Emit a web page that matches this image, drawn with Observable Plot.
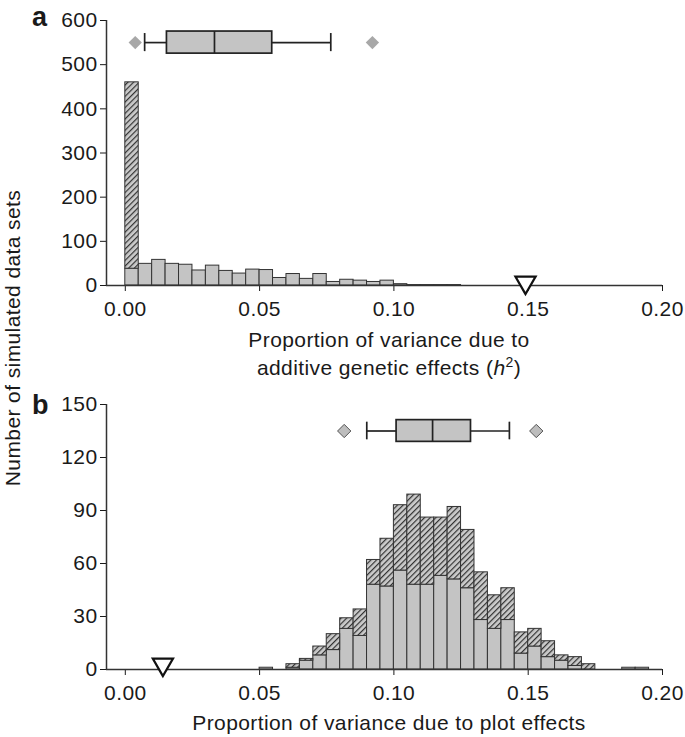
<!DOCTYPE html>
<html><head><meta charset="utf-8">
<script src="https://cdn.jsdelivr.net/npm/d3@7"></script>
<script src="https://cdn.jsdelivr.net/npm/@observablehq/plot@0.6"></script>
<style>
body{margin:0;background:#fff;}
#wrap{position:relative;width:685px;height:737px;overflow:hidden;font-family:"Liberation Sans",Arial,Helvetica,sans-serif;color:#1a1a1a;letter-spacing:0.4px;}
.panel{position:absolute;left:0;}
.xl{position:absolute;width:440px;text-align:center;font-size:21px;line-height:28px;white-space:nowrap;}
.lett{position:absolute;font-size:27px;font-weight:bold;line-height:30px;}
.yl{position:absolute;font-size:21px;line-height:24px;white-space:nowrap;transform-origin:center center;}
</style></head><body>
<div id="wrap">
  <svg width="0" height="0" style="position:absolute">
    <defs>
      <pattern id="hatch" patternUnits="userSpaceOnUse" width="4" height="4" patternTransform="rotate(45)">
        <rect x="0" y="0" width="4" height="4" fill="#cbcbcb"></rect>
        <line x1="0" y1="0" x2="0" y2="4" stroke="#333" stroke-width="2.4"></line>
      </pattern>
    </defs>
  </svg>
</div>
<script>
// ---------- data ----------
const binWidth = 0.005;
// panel a: additive genetic effects (h2)
const binsA  = [0.000,0.005,0.010,0.015,0.020,0.025,0.030,0.035,0.040,0.045,0.050,0.055,0.060,0.065,0.070,0.075,0.080,0.085,0.090,0.095,0.100,0.105,0.110,0.115,0.120];
const solidA = [38,49,58,49,47,34,45,33,27,36,35,17,26,15,26,8,13,11,8,11,3,1,1,1,1];
const totalA = [460,49,58,49,47,34,45,33,27,36,35,17,26,15,26,8,13,11,8,11,3,1,1,1,1];
const boxA = [0.0072, 0.0155, 0.0332, 0.0547, 0.0765]; // whisker low, q1, median, q3, whisker high
const outliersA = [0.0037, 0.092];
const trueA = [0.149];
const yTicksA = [0,100,200,300,400,500,600];

// panel b: plot effects
const binsB  = [0.050,0.055,0.060,0.065,0.070,0.075,0.080,0.085,0.090,0.095,0.100,0.105,0.110,0.115,0.120,0.125,0.130,0.135,0.140,0.145,0.150,0.155,0.160,0.165,0.170,0.175,0.180,0.185,0.190];
const solidB = [1,0,1,5,8,11,23,19,48,47,56,48,48,53,51,46,28,23,28,9,13,7,5,2,0,0,0,1,1];
const totalB = [1,0,3,6,13,20,29,34,62,74,93,99,86,86,92,79,55,42,46,21,23,16,8,7,3,0,0,1,1];
const boxB = [0.0899, 0.1010, 0.1144, 0.1287, 0.1430];
const outliersB = [0.0815, 0.1530];
const trueB = [0.014];
const yTicksB = [0,30,60,90,120,150];

const xTicks = [0.00,0.05,0.10,0.15,0.20];
const xDomain = [-0.007, 0.20];

// ---------- drawing ----------
const axisColor = "#333";
const barFill = "#c4c4c4";

function panel({bins, solid, total, box, outliers, truth, yTicks, yMax, boxY, boxH, capH, height, marginTop, marginBottom, outlierFill, outlierStroke, triDy}) {
  const rows = bins.map((x, i) => ({x1: x, x2: x + binWidth, solid: solid[i], total: total[i]})).filter(d => d.total > 0);
  return Plot.plot({
    width: 685,
    height,
    marginLeft: 106,
    marginRight: 23,
    marginTop,
    marginBottom,
    style: {fontSize: "21px", fontFamily: "'Liberation Sans', Arial, sans-serif", color: "#1a1a1a", background: "transparent", letterSpacing: "0.4px"},
    x: {domain: xDomain, ticks: xTicks, tickFormat: d => d.toFixed(2), tickSize: 6, tickPadding: 10, label: null},
    y: {domain: [0, yMax], ticks: yTicks, tickSize: 6, tickPadding: 3, label: null},
    marks: [
      Plot.rect(rows.filter(d => d.solid > 0), {x1: "x1", x2: "x2", y1: 0, y2: "solid", fill: barFill, stroke: axisColor, strokeWidth: 1}),
      Plot.rect(rows.filter(d => d.total > d.solid), {x1: "x1", x2: "x2", y1: "solid", y2: "total", fill: "url(#hatch)", stroke: axisColor, strokeWidth: 1}),
      Plot.ruleY([0], {stroke: axisColor, strokeWidth: 1.5}),
      Plot.ruleX([xDomain[0]], {stroke: axisColor, strokeWidth: 1.5}),
      // box plot
      Plot.ruleY([{x1: box[0], x2: box[1]}, {x1: box[3], x2: box[4]}], {x1: "x1", x2: "x2", y: boxY, stroke: "#222", strokeWidth: 1.7}),
      Plot.ruleX([box[0], box[4]], {x: d => d, y1: boxY - capH / 2, y2: boxY + capH / 2, stroke: "#222", strokeWidth: 1.7}),
      Plot.rect([box], {x1: d => d[1], x2: d => d[3], y1: boxY - boxH / 2, y2: boxY + boxH / 2, fill: barFill, stroke: "#222", strokeWidth: 1.7}),
      Plot.ruleX([box[2]], {x: d => d, y1: boxY - boxH / 2, y2: boxY + boxH / 2, stroke: "#222", strokeWidth: 1.7}),
      Plot.dot(outliers, {x: d => d, y: boxY, symbol: "diamond2", r: 6, fill: outlierFill, stroke: outlierStroke, strokeWidth: 1}),
      // true value marker
      Plot.dot(truth, {x: d => d, y: 0, symbol: "triangle", r: 7.5, rotate: 180, dy: triDy, fill: "white", stroke: "#111", strokeWidth: 2.2})
    ]
  });
}

const wrap = document.getElementById("wrap");

const svgA = panel({bins: binsA, solid: solidA, total: totalA, box: boxA, outliers: outliersA, truth: trueA,
  yTicks: yTicksA, yMax: 600, boxY: 550, boxH: 50, capH: 41, height: 330, marginTop: 20, marginBottom: 45,
  outlierFill: "#a8a8a8", outlierStroke: "none", triDy: -3});
svgA.classList.add("panel"); svgA.style.top = "0px";
wrap.appendChild(svgA);

const svgB = panel({bins: binsB, solid: solidB, total: totalB, box: boxB, outliers: outliersB, truth: trueB,
  yTicks: yTicksB, yMax: 150, boxY: 135, boxH: 12.3, capH: 10, height: 367, marginTop: 34, marginBottom: 68,
  outlierFill: "#bdbdbd", outlierStroke: "#555", triDy: -5});
svgB.classList.add("panel"); svgB.style.top = "370px";
wrap.appendChild(svgB);

// text labels
function addDiv(cls, html, css) {
  const d = document.createElement("div");
  d.className = cls; d.innerHTML = html;
  Object.assign(d.style, css);
  wrap.appendChild(d);
  return d;
}
addDiv("lett", "a", {left: "32px", top: "2px"});
addDiv("lett", "b", {left: "32px", top: "390px"});
addDiv("xl", "Proportion of variance due to<br>additive genetic effects (<i>h</i><sup style=\"font-size:14px;line-height:0;vertical-align:8px\">2</sup>)", {left: "169px", top: "326px"});
addDiv("xl", "Proportion of variance due to plot effects", {left: "169px", top: "709px"});
const yl = addDiv("yl", "Number of simulated data sets", {});
const w = yl.offsetWidth;
yl.style.left = (13 - w / 2) + "px";
yl.style.top = (338 - 12) + "px";
yl.style.transform = "rotate(-90deg)";
</script>
</body></html>
